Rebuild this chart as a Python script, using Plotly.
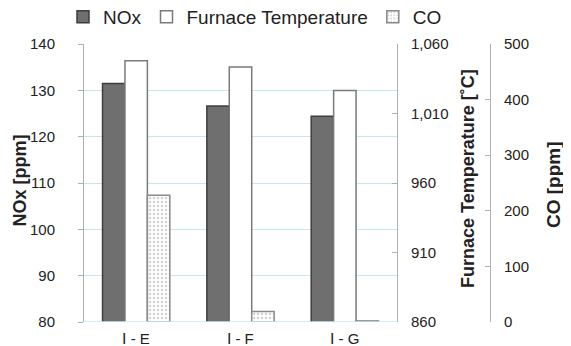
import plotly.graph_objects as go

categories = ["Ⅰ - E", "Ⅰ - F", "Ⅰ - G"]
nox = [131.5, 126.6, 124.4]
furnace_temp = [1048, 1043.5, 1026.5]
co = [228, 19, 2]

nox_ticks = [80, 90, 100, 110, 120, 130, 140]
temp_ticks = [860, 910, 960, 1010, 1060]
co_ticks = [0, 100, 200, 300, 400, 500]

FONT = "Liberation Sans, Arial, sans-serif"
W, H = 571, 346
OFF = 8  # page body margin offset
# target screen geometry
LEFT, RIGHT_PAPER, TOP, BOTTOM = 84, 551, 44, 322
ML = LEFT - OFF
MT = TOP - OFF
MR = W - (RIGHT_PAPER - OFF)
MB = H - (BOTTOM - OFF)
PW = W - ML - MR
PH = H - MT - MB

def px_x(px):
    return (px - LEFT) / PW

def px_y(py):
    return (BOTTOM - py) / PH

TICKFONT = dict(size=15, color="#222")

fig = go.Figure()
fig.add_trace(go.Bar(
    x=categories, y=nox, name="NOx", yaxis="y",
    width=0.215, offset=-0.3225,
    marker=dict(color="#6f6f6f", line=dict(color="#3e3e3e", width=1.5)),
))
fig.add_trace(go.Bar(
    x=categories, y=furnace_temp, name="Furnace Temperature", yaxis="y2",
    width=0.215, offset=-0.1075,
    marker=dict(color="#ffffff", line=dict(color="#7a7a7a", width=1.5)),
))
fig.add_trace(go.Bar(
    x=categories, y=co, name="CO", yaxis="y3",
    width=0.215, offset=0.1075,
    marker=dict(color="#ffffff", line=dict(color="#8a8a8a", width=1.5),
                pattern=dict(shape=".", fgcolor="#a8a8a8", bgcolor="#ffffff",
                             size=4, solidity=0.35)),
))

fig.update_layout(
    width=W, height=H,
    margin=dict(l=ML, r=MR, t=MT, b=MB, autoexpand=False),
    paper_bgcolor="white", plot_bgcolor="white",
    font=dict(family=FONT, size=15, color="#222"),
    barmode="overlay",
    showlegend=True,
    legend=dict(orientation="h", x=px_x(63), y=px_y(-2), xanchor="left", yanchor="top",
                font=dict(size=19, color="#222"), itemwidth=30,
                traceorder="normal", bgcolor="rgba(0,0,0,0)",
                tracegroupgap=0, itemclick=False),
    xaxis=dict(domain=[0, px_x(397)], showgrid=False, zeroline=False,
               showline=False, ticks="", tickfont=TICKFONT, automargin=False,
               range=[-0.5, 2.5], ticklabelstandoff=6),
    yaxis=dict(range=[80, 140], tickvals=nox_ticks, showgrid=True,
               gridcolor="#c6e6f0", gridwidth=1, zeroline=False,
               showline=True, linecolor="#b0b0b0", linewidth=1, automargin=False,
               ticks="outside", ticklen=5, tickcolor="#b0b0b0",
               tickfont=TICKFONT, ticklabelstandoff=20),
    yaxis2=dict(range=[860, 1060], tickvals=temp_ticks,
                ticktext=[f"{t:,}" for t in temp_ticks],
                overlaying="y", side="right", anchor="x", automargin=False,
                showgrid=False, zeroline=False, showline=True,
                linecolor="#b0b0b0", linewidth=1, ticks="inside", ticklen=5,
                tickcolor="#b0b0b0", tickfont=TICKFONT, ticklabelstandoff=10),
    yaxis3=dict(range=[0, 500], tickvals=co_ticks, overlaying="y",
                side="right", anchor="free", position=px_x(490), automargin=False,
                showgrid=False, zeroline=False, showline=True,
                linecolor="#b0b0b0", linewidth=1, ticks="inside", ticklen=5,
                tickcolor="#b0b0b0", tickfont=TICKFONT, ticklabelstandoff=10),
    shapes=[dict(type="line", xref="x domain", yref="y", x0=0, x1=1, y0=80, y1=80,
                 line=dict(color="#c6e6f0", width=1.5))],
    annotations=[
        dict(text="<b>NOx [ppm]</b>", xref="paper", yref="paper",
             x=px_x(20), y=px_y(180.5), textangle=-90, showarrow=False,
             xanchor="center", yanchor="middle",
             font=dict(size=18, color="#222")),
        dict(text="<b>Furnace Temperature [˚C]</b>", xref="paper", yref="paper",
             x=px_x(468), y=px_y(179), textangle=-90, showarrow=False,
             xanchor="center", yanchor="middle",
             font=dict(size=18, color="#222")),
        dict(text="<b>CO [ppm]</b>", xref="paper", yref="paper",
             x=px_x(553), y=px_y(185), textangle=-90, showarrow=False,
             xanchor="center", yanchor="middle",
             font=dict(size=19, color="#222")),
    ],
)

fig.write_html("out.html")
